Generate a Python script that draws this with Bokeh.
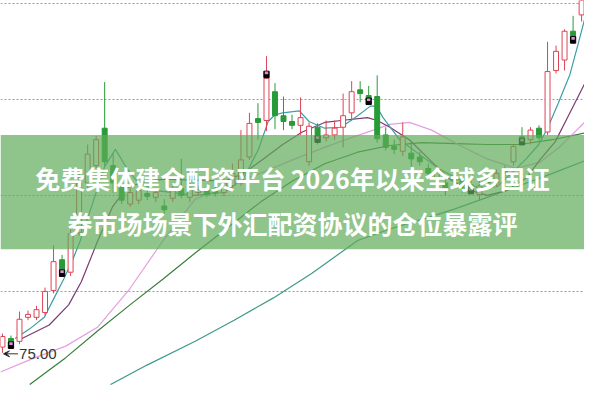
from bokeh.plotting import figure
from bokeh.models import Range1d, BoxAnnotation, Label, FixedTicker, Arrow, VeeHead
from bokeh.embed import file_html
from bokeh.resources import INLINE

# ---------------- data ----------------
opens = [75.30, 75.75, 75.60, 76.85, 76.85, 77.10, 78.25, 79.85, 79.20, 81.25,
         83.85, 84.75, 86.70, 84.75, 83.75, 82.75, 82.95, 83.30, 83.10, 82.65,
         83.05, 83.55, 83.10, 83.35, 83.45, 83.55, 83.35, 83.70, 83.85, 85.20,
         87.20, 87.10, 88.60, 87.35, 87.05, 86.85, 84.95, 86.75, 86.20, 86.35,
         86.75, 87.50, 88.70, 88.40, 88.35, 86.35, 85.75, 85.50, 85.40, 85.20,
         84.60, 84.10, 83.85, 84.20, 83.95, 83.75, 83.25, 84.10, 83.85, 84.50,
         84.95, 86.25, 86.10, 86.70, 86.50, 89.70, 90.25, 91.75, 92.60]
closes = [75.85, 75.50, 76.75, 77.00, 77.25, 78.20, 79.75, 79.30, 81.20, 83.85,
          85.35, 86.10, 84.95, 83.85, 82.95, 83.35, 83.45, 83.15, 83.35, 82.45,
          83.45, 83.20, 83.60, 83.50, 83.25, 83.35, 83.85, 84.35, 85.05, 86.95,
          87.00, 89.30, 87.35, 87.05, 86.85, 87.25, 86.80, 86.25, 86.35, 86.70,
          87.35, 88.60, 88.50, 88.20, 86.15, 85.70, 85.60, 86.25, 85.10, 84.95,
          84.35, 84.45, 83.55, 83.95, 83.70, 83.55, 83.70, 83.85, 84.35, 84.35,
          85.75, 86.10, 86.60, 86.20, 89.65, 90.70, 91.75, 91.50, 93.75]
highs = [76.00, 75.90, 77.15, 77.20, 77.45, 78.40, 80.60, 80.10, 81.55, 84.35,
         85.85, 86.30, 89.10, 85.35, 84.10, 83.60, 83.65, 83.55, 83.50, 83.00,
         83.75, 85.10, 83.85, 83.70, 83.60, 83.70, 84.10, 84.85, 86.60, 87.50,
         88.00, 90.45, 89.05, 88.35, 87.40, 88.30, 87.00, 86.95, 87.10, 87.10,
         88.50, 89.15, 89.15, 88.90, 89.45, 86.75, 86.10, 87.00, 86.00, 85.45,
         84.85, 84.75, 84.00, 84.45, 84.10, 84.00, 83.95, 84.35, 84.55, 84.75,
         85.85, 86.75, 86.75, 86.85, 91.20, 91.00, 91.85, 92.55, 93.95]
lows = [75.00, 75.30, 75.45, 76.70, 76.70, 76.95, 78.10, 79.20, 79.00, 81.10,
        83.60, 84.60, 84.75, 83.35, 82.75, 82.60, 82.75, 82.95, 82.85, 82.25,
        82.85, 83.05, 82.85, 83.20, 83.10, 83.15, 83.15, 83.55, 83.70, 85.05,
        86.10, 86.55, 86.65, 86.60, 86.65, 86.35, 84.75, 85.85, 86.00, 86.10,
        85.70, 87.10, 88.05, 87.95, 85.95, 85.55, 85.35, 85.25, 84.70, 84.75,
        84.10, 83.85, 83.20, 83.70, 83.35, 83.35, 82.95, 83.60, 83.65, 84.10,
        84.75, 85.85, 85.85, 86.05, 86.35, 89.55, 89.70, 91.10, 92.25]

# signal markers (candle index, price)
sig_idx = [1, 7, 31, 37, 43, 55, 61, 67]
sig_price = [75.40, 79.15, 89.50, 86.13, 88.10, 83.45, 86.00, 91.30]

# moving-average lines (candle index, price)
ma5_x = [1.49, 3.2, 4.91, 6.06, 7.2, 8.34, 9.14, 10.63, 12.0, 13.26, 14.63, 15.77,
         18.06, 22.63, 26.06, 28.34, 30.06, 31.2, 32.0, 32.91, 34.86, 36.0, 37.83,
         39.77, 41.71, 43.2, 43.89, 44.69, 46.63, 48.91, 51.2, 53.49, 55.77, 58.06,
         59.77, 61.49, 62.97, 64.0, 65.26, 66.63, 67.54, 68.34]
ma5_y = [75.75, 76.25, 76.85, 77.85, 78.85, 79.95, 80.85, 82.85, 84.70, 85.60, 84.60, 83.95,
         83.45, 83.20, 83.35, 84.10, 85.60, 87.05, 87.40, 87.50, 87.60, 87.05, 86.70,
         86.75, 87.35, 87.85, 87.85, 87.25, 86.10, 85.35, 84.60, 84.05, 83.60, 83.65,
         84.35, 85.10, 85.85, 86.70, 88.00, 89.50, 91.00, 92.35]
ma10_x = [2.06, 5.49, 7.77, 9.26, 11.2, 12.91, 14.63, 16.91, 19.2, 22.63, 26.06, 28.34,
          30.63, 32.91, 35.2, 37.83, 39.77, 42.86, 44.0, 45.49, 47.77, 50.06, 52.34,
          54.63, 56.91, 59.2, 61.49, 63.2, 64.91, 66.63, 68.34]
ma10_y = [75.70, 76.45, 77.50, 78.70, 80.85, 82.60, 83.60, 83.95, 84.05, 84.00, 83.95, 84.35,
          85.10, 85.85, 86.50, 87.00, 87.10, 87.25, 87.10, 86.75, 86.10, 85.10, 84.10,
          83.50, 83.20, 83.45, 84.10, 85.10, 86.00, 87.50, 89.00]
ma20_x = [-0.23, 3.54, 7.43, 11.2, 14.97, 18.86, 22.63, 26.4, 30.29, 34.06, 37.83, 40.91,
          43.2, 45.49, 47.77, 50.4, 53.49, 56.91, 60.34, 63.2, 65.49, 68.34]
ma20_y = [74.00, 74.70, 75.35, 76.35, 78.35, 80.85, 83.00, 83.70, 84.35, 85.05, 85.70, 86.20,
          86.55, 86.90, 87.00, 86.60, 85.85, 85.10, 84.60, 84.95, 85.75, 87.00]
ma60_x = [3.2, 7.43, 11.2, 14.97, 18.86, 22.63, 26.4, 30.29, 34.06, 37.83, 41.71, 45.49,
          49.26, 53.14, 56.91, 60.69, 64.57, 68.34]
ma60_y = [73.35, 74.75, 76.15, 77.50, 78.85, 80.20, 81.50, 82.85, 83.95, 84.85, 85.45, 85.80,
          85.95, 85.90, 85.85, 85.85, 86.10, 86.45]
ma120_x = [12.69, 16.91, 22.63, 27.2, 31.77, 36.34, 41.71, 45.49, 49.26, 53.14, 56.91,
           60.69, 64.57, 68.34]
ma120_y = [73.35, 74.35, 75.60, 76.70, 77.85, 79.15, 80.85, 81.45, 81.95, 82.50, 83.10,
           83.70, 84.35, 85.00]

grid_levels = [78.2, 83.2, 88.2, 93.2]

title_line1 = "免费集体建仓配资平台 2026年以来全球多国证"
title_line2 = "券市场场景下外汇配资协议的仓位暴露评"
banner_bottom, banner_top = 80.40, 86.35
title_y = [84.10, 81.75]

# ---------------- styling ----------------
UP = "#dd4455"
DOWN = "#279b37"

p = figure(width=584, height=385, output_backend="svg", toolbar_location=None,
           x_range=Range1d(-0.23, 68.34), y_range=Range1d(73.3, 93.35),
           min_border=0, background_fill_color="white", border_fill_color="white")
p.outline_line_color = None
p.xaxis.visible = False
p.yaxis.visible = False
p.xgrid.visible = False
p.yaxis.ticker = FixedTicker(ticks=grid_levels)
p.ygrid.ticker = FixedTicker(ticks=grid_levels)
p.ygrid.grid_line_color = "#9a9a9a"
p.ygrid.grid_line_dash = "2 2"
p.ygrid.grid_line_width = 1

# moving averages (under candles)
p.line(ma120_x, ma120_y, line_color="#3f998a", line_width=1.2)
p.line(ma60_x, ma60_y, line_color="#3b7d3b", line_width=1.2)
p.line(ma20_x, ma20_y, line_color="#e49ee0", line_width=1.2)
p.line(ma10_x, ma10_y, line_color="#7b3a72", line_width=1.2)
p.line(ma5_x, ma5_y, line_color="#3c9fa4", line_width=1.2)

idx = list(range(len(opens)))
up = [c >= o for o, c in zip(opens, closes)]
colors = [UP if u else DOWN for u in up]
fills = ["white" if u else DOWN for u in up]
tops = [max(o, c) for o, c in zip(opens, closes)]
bots = [min(o, c) for o, c in zip(opens, closes)]

p.segment(x0=idx, y0=lows, x1=idx, y1=highs, line_color=colors, line_width=1)
p.vbar(x=idx, width=0.58, top=tops, bottom=bots, fill_color=fills, line_color=colors, line_width=1)

# signal markers
p.rect(x=sig_idx, y=sig_price, width=0.62, height=0.34, fill_color="black", line_color="black")
p.rect(x=sig_idx, y=[v + 0.08 for v in sig_price], width=0.4, height=0.14,
       fill_color="#e08ad8", line_color=None)

# lowest price marker
lo = min(lows)
lo_i = lows.index(lo)
p.add_layout(Arrow(end=VeeHead(size=6, line_color="#333333", line_width=1),
                   x_start=lo_i + 1.83, y_start=lo - 0.05, x_end=lo_i + 0.12, y_end=lo - 0.05,
                   line_color="#333333", line_width=1))
p.add_layout(Label(x=lo_i + 1.95, y=lo - 0.05, text=f"{lo:.2f}", text_align="left",
                   text_baseline="middle", text_font="Liberation Sans",
                   text_font_size="15px", text_color="#333333"))

# banner
p.add_layout(BoxAnnotation(bottom=banner_bottom, top=banner_top, fill_color="#5fab58",
                           fill_alpha=0.7, line_alpha=0))
xmid = (p.x_range.start + p.x_range.end) / 2
for t, yy in zip([title_line1, title_line2], title_y):
    p.add_layout(Label(x=xmid, y=yy, text=t, text_align="center", text_baseline="middle",
                       text_font="Noto Sans CJK SC", text_font_style="bold",
                       text_font_size="25px", text_color="white"))

open("out.html", "w").write(file_html(p, INLINE))
